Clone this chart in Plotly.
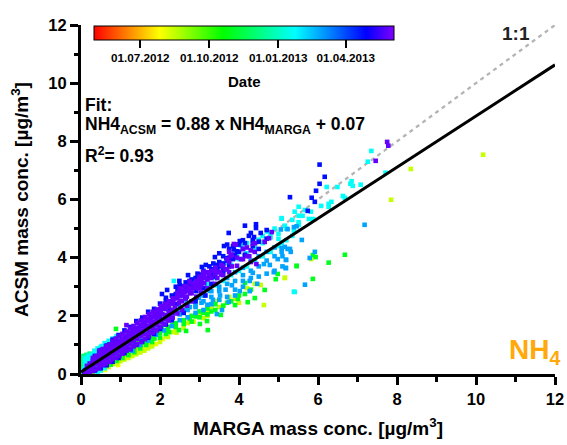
import plotly.graph_objects as go

# colour dates: days since 01.05.2012
TICK_DAYS = [61, 153, 245, 335]
TICK_LABELS = ["01.07.2012", "01.10.2012", "01.01.2013", "01.04.2013"]
DATE_MIN, DATE_MAX = 0, 400

DATE_YELLOW = 92
YELLOW_X = [1.90, 1.62, .94, 1.5, 1.7, 1.25, 2.07, .61]
YELLOW_Y = [1.03, .86, .31, .78, .92, .62, 1.2, .14]

DATE_LIME = 106
LIME_X = [.12,.18,.22,.28,.33,.38,.42,.47,.52,.55,.66,.72,.78,.83,.88,.98,1.04,1.09,1.14,1.18,1.3,1.36,1.42,1.48,1.55,1.68,1.75,2.2,2.33,2.42,2.6,2.85,3.1,3.4,3.6,3.9,3.75,4.55,4.63,5.16,5.83,5.16,7.85,8.35,10.18]
LIME_Y = [.03,.06,.09,.12,.13,.18,.2,.24,.27,.31,.36,.33,.42,.47,.43,.55,.5,.63,.58,.69,.78,.72,.85,.82,.95,1.02,.96,1.27,1.44,1.42,1.58,1.8,1.92,2.5,2.34,2.58,2.65,3.06,2.37,3.31,3.95,3.30,5.99,7.05,7.54]
LIME_COLUMNS = [(.2,[.02]),(.3,[.08]),(.4,[.12]),(.5,[.18]),(.6,[.22]),(.7,[.24,.3]),(.8,[.34]),(.9,[.36,.42]),(1.0,[.44,.5]),(1.1,[.5,.56]),(1.2,[.55,.62]),(1.3,[.62]),(1.4,[.68,.75]),(1.5,[.74]),(1.6,[.8]),(1.7,[.88]),(1.8,[.95,1.0]),(2.0,[1.1]),(2.15,[1.3]),(2.4,[1.55]),(2.7,[1.75]),(3.0,[2.0]),(3.2,[2.0,2.15]),(3.3,[2.3]),(3.5,[2.3,2.55]),(4.0,[2.45]),(4.2,[2.95]),(4.4,[3.1])]

DATE_GREEN = 182
GREEN_X = [.05,.09,.13,.17,.21,.26,.3,.35,.4,.46,.5,.56,.6,.64,.7,.76,.8,.86,.9,.96,1.0,1.06,1.12,1.17,1.22,1.28,1.34,1.4,1.46,1.52,1.58,1.64,1.7,1.78,1.86,1.95,2.05,2.15,2.23,2.32,2.48,2.66,2.75,2.9,3.01,3.1,3.19,3.21,3.3,3.54,3.7,3.9,3.97,4.15,4.15,4.22,4.4,4.65,4.93,4.98,5.46,5.46,5.87,5.87,5.94,6.27,6.68,.885]
GREEN_Y = [.02,.05,.08,.14,.16,.18,.2,.27,.3,.34,.4,.37,.46,.5,.52,.58,.56,.66,.7,.63,.76,.8,.72,.88,.92,.84,1.0,1.06,.98,1.12,1.08,1.2,1.26,1.3,1.22,1.5,1.62,1.38,1.44,1.7,1.51,1.48,1.9,1.98,1.72,2.1,1.82,1.51,2.15,2.03,2.45,2.37,2.58,2.75,3.13,2.47,2.61,2.89,3.26,3.44,3.71,3.72,3.27,4.09,4.02,3.83,4.10,1.55]
GREEN_COLUMNS = [(.3,[.1]),(.45,[.15,.24]),(.6,[.25,.33]),(.75,[.32,.45]),(.9,[.45,.55]),(1.05,[.55,.68]),(1.2,[.65,.78]),(1.35,[.75,.9]),(1.5,[.88,1.0]),(1.65,[1.0,1.12]),(1.8,[1.1,1.2]),(2.0,[1.25,1.4]),(2.2,[1.5,1.62]),(2.4,[1.62,1.75]),(2.6,[1.72,1.85]),(2.8,[1.8,2.0]),(3.0,[1.95,2.15]),(3.2,[2.05,2.25]),(3.4,[2.2,2.4]),(3.6,[2.35]),(3.8,[2.5]),(4.0,[2.7]),(4.3,[2.9])]

DATE_SPRING = 215
SPRING_X = [.02,.03,.04,.05,.06,.07,.08,.1,.12,.14,.03,.05,.07,.09,.11,.13,.16,.18,.2,.22,.02,.04,.06,.09,.12,.15]
SPRING_Y = [.05,.2,.35,.5,.62,.45,.28,.58,.42,.66,.12,.08,.15,.38,.3,.52,.46,.6,.55,.7,.28,.42,.55,.18,.22,.35]

DATE_CYAN = 266
CYAN_X = [.04,.08,.12,.16,.2,.25,.3,.35,.4,.45,.52,.58,.64,.7,.76,.85,.95,1.05,1.2,2.35,3.3,3.5,3.65,3.8,3.95,4.05,4.2,4.35,4.5,4.6,4.72,4.8,4.9,5.0,5.08,5.16,5.39,5.39,5.41,5.51,5.51,5.51,5.41,5.51,5.61,5.67,5.77,5.82,5.88,6.08,6.22,6.27,6.27,6.34,6.49,6.63,6.68,6.82,6.85,6.88,7.08,7.26,7.35,7.71,5.08,5.08]
CYAN_Y = [.1,.18,.3,.4,.5,.56,.6,.72,.78,.74,.96,.88,.98,1.02,1.1,1.12,1.2,1.28,1.4,3.20,3.62,3.7,3.82,4.05,4.1,4.42,4.5,4.55,4.62,4.75,4.9,4.7,5.0,4.82,5.36,5.1,4.91,2.83,2.82,5.22,5.75,5.44,5.58,5.13,5.44,5.64,5.33,5.58,5.33,5.78,6.43,5.85,5.75,5.92,6.43,6.12,6.06,6.54,6.63,6.47,6.51,7.30,7.67,6.92,5.34,4.5]
CYAN_COLUMNS = [(.1,[.4,.55]),(.18,[.48,.62]),(.26,[.66,.6]),(.34,[.8,.68]),(.42,[.88,.06]),(.5,[.92,.12]),(.6,[1.06,.2]),(.7,[1.14]),(.8,[1.22]),(.9,[1.3]),(3.2,[2.9,3.1]),(3.4,[3.05,3.3]),(3.6,[3.2,3.5]),(3.8,[3.4,3.75]),(4.0,[3.55,3.95]),(4.2,[3.7,4.15]),(4.4,[3.9,4.35]),(4.6,[4.05,4.5]),(4.8,[4.2,4.85]),(5.0,[4.4,4.65]),(5.2,[4.6,5.0]),(5.35,[4.75,5.3])]

DATE_AZURE = 302
AZURE_X = [.3,.38,.46,.55,.62,.7,.78,.85,.92,1.0,1.06,1.14,1.2,1.28,1.34,1.42,1.5,1.56,1.62,1.7,1.76,1.84,1.9,1.98,2.05,2.12,2.18,2.25,2.32,2.38,2.45,2.52,2.6,2.68,2.75,2.82,2.9,2.98,3.05,3.12,3.2,3.26,3.34,3.44,3.52,3.57,3.66,3.74,3.82,3.9,4.02,4.1,4.27,4.27,4.35,4.46,4.63,4.78,4.88,4.98,5.08,5.08,5.16,5.19,5.19,5.23,5.29,5.31,5.18,5.19,5.39,5.46,5.59,5.67,5.79,5.92,7.18,5.06,5.23]
AZURE_Y = [.2,.28,.36,.44,.5,.6,.66,.72,.8,.84,.95,1.0,1.06,1.16,1.2,1.28,1.38,1.42,1.5,1.58,1.6,1.7,1.76,1.88,1.82,1.98,1.9,2.1,2.0,2.22,2.12,2.3,2.2,2.44,2.3,2.5,2.36,2.62,2.45,2.75,2.38,2.86,2.55,2.06,2.7,2.2,2.9,2.48,3.05,2.7,2.85,3.2,2.85,3.2,3.48,3.1,3.78,3.75,3.5,3.95,4.33,4.2,4.37,3.92,3.64,4.3,4.30,4.2,3.65,3.93,5.05,5.08,4.61,3.07,3.99,4.2,5.13,4.97,4.98]
AZURE_COLUMNS = [(1.3,[.8,1.05]),(1.5,[1.0,1.25]),(1.7,[1.15,1.4]),(1.9,[1.35,1.6]),(2.1,[1.5,1.72]),(2.3,[1.65,1.92]),(2.5,[1.85,2.05]),(2.7,[1.95,2.2,2.4]),(2.9,[2.1,2.3,2.55]),(3.1,[2.2,2.5,2.7]),(3.3,[2.4,2.65,2.85]),(3.5,[2.55,2.85,3.0]),(3.7,[2.65,3.1,3.3]),(3.9,[2.9,3.2,3.5]),(4.1,[3.0,3.4,3.65]),(4.3,[3.3,3.55,3.9]),(4.5,[3.35,3.7,4.05]),(4.7,[3.45,3.9,4.2]),(4.9,[3.55,4.05,4.35]),(5.1,[3.7,4.05])]

DATE_BLUE = 358
BLUE_X = [.1,.16,.24,.3,.36,.44,.5,.56,.62,.68,.74,.8,.86,.92,.98,1.04,1.1,1.16,1.22,1.28,1.34,1.4,1.46,1.52,1.58,1.64,1.7,1.76,1.82,1.88,1.94,2.0,2.05,2.12,2.18,2.24,2.3,2.36,2.42,2.49,2.55,2.62,2.71,2.78,2.85,2.92,3.0,3.06,3.16,3.21,3.3,3.39,3.45,3.55,3.62,3.68,3.74,3.8,3.87,3.95,4.02,4.15,4.3,4.38,4.43,4.43,5.29,5.74,5.84,5.92,5.95,6.04,6.04,6.17]
BLUE_Y = [.12,.2,.34,.4,.48,.56,.66,.62,.76,.84,.78,.96,1.0,1.12,1.02,1.2,1.16,1.3,1.36,1.24,1.5,1.56,1.44,1.66,1.72,1.6,1.86,1.92,1.78,2.02,2.1,1.98,2.75,2.3,2.89,2.2,2.5,2.62,2.4,3.20,2.7,2.82,3.40,2.95,3.08,2.85,3.15,3.68,3.75,3.3,3.45,4.02,3.6,3.7,4.40,3.98,4.85,4.1,4.28,4.22,4.57,5.10,4.85,4.71,5.15,5.02,6.08,5.61,6.06,5.92,6.30,7.2,6.54,6.78]
BLUE_COLUMNS = [(.35,[.62,.12]),(.5,[.82,.2]),(.65,[.98,.3]),(.8,[1.18,.42]),(.95,[1.34,.55]),(1.1,[1.5,.72]),(1.25,[1.62,.85]),(1.4,[1.82,1.0]),(1.55,[1.94,1.12]),(1.7,[2.14,1.25]),(1.85,[2.24,1.38]),(2.0,[2.42,1.55]),(2.15,[2.52,2.62,1.7]),(2.3,[2.7,1.85]),(2.45,[2.85,2.95]),(2.6,[3.02,2.1]),(2.75,[3.1,3.2]),(2.9,[3.3,2.5]),(3.0,[3.42,3.05]),(3.15,[3.5,2.7]),(3.3,[3.6,3.1]),(3.5,[3.85,4.15]),(3.7,[3.9,4.45]),(3.9,[4.45,4.1]),(4.1,[4.6,4.3]),(4.25,[4.75]),(4.55,[4.85]),(2.4,[3.0,2.75]),(2.5,[2.9,3.05]),(2.65,[2.95,3.15,2.6]),(2.8,[3.25,2.95]),(2.95,[3.15,3.45]),(3.1,[3.3,3.55,2.95]),(3.25,[3.4,3.7]),(3.35,[3.6,3.8,3.35]),(3.45,[3.75,3.5]),(3.6,[3.55,3.8,4.05]),(3.75,[4.0,4.3,3.7]),(3.85,[3.95,4.4]),(4.0,[4.2,4.45]),(4.15,[4.1,4.5]),(4.35,[4.4,4.6]),(4.5,[4.55,4.3]),(4.7,[4.65,4.95])]

DATE_VIOLET = 392
VIOLET_X = [.08,.12,.17,.2,.24,.27,.31,.34,.38,.41,.44,.48,.51,.54,.58,.61,.64,.67,.71,.74,.77,.8,.83,.87,.9,.93,.96,1.0,1.03,1.06,1.09,1.13,1.16,1.19,1.23,1.26,1.3,1.33,1.36,1.4,1.43,1.46,1.5,1.53,1.56,1.6,1.63,1.66,1.7,1.73,1.77,1.8,1.84,1.88,1.91,1.95,1.98,2.02,2.06,2.1,2.14,2.18,2.22,2.26,2.3,2.34,2.38,2.42,2.48,2.52,2.58,2.64,2.7,2.76,2.82,2.88,2.96,3.09,3.05,3.15,3.25,3.36,3.52,3.65,3.79,3.87,4.26,4.35,4.44,4.65,4.76,4.83,7.46,7.75,7.78]
VIOLET_Y = [.06,.14,.13,.24,.2,.32,.26,.4,.34,.46,.38,.54,.44,.6,.5,.68,.56,.74,.62,.8,.7,.88,.76,.94,.84,1.02,.9,1.1,.96,1.16,1.04,1.24,1.1,1.3,1.18,1.38,1.24,1.44,1.3,1.52,1.38,1.6,1.42,1.68,1.5,1.74,1.58,1.82,1.66,1.9,1.74,1.96,1.8,2.04,1.9,2.12,1.96,2.2,2.06,2.28,2.02,2.36,2.12,2.42,2.2,2.5,2.3,2.6,2.44,2.52,2.72,2.6,2.85,2.78,2.95,3.02,3.1,3.51,3.22,3.3,3.42,3.54,3.51,3.6,4.05,4.47,4.05,4.47,3.78,4.54,4.67,4.88,7.33,7.98,7.85]
VIOLET_COLUMNS = [(.15,[.02,.28]),(.22,[.08,.36]),(.3,[.1,.45,.55]),(.38,[.16,.5,.62]),(.46,[.2,.32,.66,.8]),(.55,[.3,.42,.72,.86]),(.63,[.36,.5,.82,.95]),(.72,[.42,.58,.88,1.02]),(.8,[.5,.66,.98,1.12]),(.88,[.56,.72,1.05,1.22]),(.97,[.62,.78,1.14,1.3]),(1.05,[.7,.86,1.22,1.38]),(1.15,[.8,.94,1.3,1.46,1.68]),(1.24,[.86,1.02,1.4,1.56]),(1.33,[.95,1.12,1.5,1.65]),(1.42,[1.02,1.2,1.58,1.76]),(1.52,[1.1,1.3,1.68,1.84]),(1.62,[1.2,1.36,1.78,1.96]),(1.72,[1.3,1.46,1.88,2.06]),(1.82,[1.42,1.56,1.98,2.14]),(1.92,[1.5,1.68,2.06,2.22]),(2.02,[1.62,1.78,2.14,2.34]),(2.12,[1.72,1.88,2.24,2.42]),(2.22,[1.84,1.98,2.32,2.5]),(2.32,[1.94,2.1,2.42,2.6]),(2.44,[2.08,2.66,2.8]),(2.56,[2.2,2.5,2.86]),(2.68,[2.35,2.66,3.0]),(2.8,[2.5,2.78,3.12]),(2.92,[2.66,3.2]),(3.04,[2.8,3.05,3.3]),(3.2,[2.95,3.25,3.5]),(3.4,[3.1,3.44,3.66]),(3.6,[3.4,3.7]),(3.75,[3.5,3.85,4.2]),(3.95,[3.72,4.0]),(4.1,[3.95,4.3]),(4.3,[3.85,4.25]),(2.5,[2.7,2.95]),(2.62,[2.85,3.02]),(2.75,[2.95,3.18]),(2.9,[2.95,3.08]),(3.0,[2.95,3.2,3.35]),(3.12,[3.12,3.4]),(3.3,[3.3,3.55]),(3.45,[3.3,3.52]),(3.55,[3.42,3.75]),(3.7,[3.6,3.95]),(3.82,[3.7,4.1]),(3.92,[4.45]),(4.05,[3.95]),(4.2,[4.05,4.35]),(4.4,[4.2,4.5])]

LINE_X = [0, 12]
FIT_Y = [0.07, 10.63]
ONE_ONE_Y = [0, 12]


def merged(xs, ys, columns):
    out_x, out_y = list(xs), list(ys)
    for x, col in columns:
        for y in col:
            out_x.append(x)
            out_y.append(y)
    return out_x, out_y


GROUPS = [
    (DATE_YELLOW, *merged(YELLOW_X, YELLOW_Y, [])),
    (DATE_LIME, *merged(LIME_X, LIME_Y, LIME_COLUMNS)),
    (DATE_GREEN, *merged(GREEN_X, GREEN_Y, GREEN_COLUMNS)),
    (DATE_SPRING, *merged(SPRING_X, SPRING_Y, [])),
    (DATE_CYAN, *merged(CYAN_X, CYAN_Y, CYAN_COLUMNS)),
    (DATE_AZURE, *merged(AZURE_X, AZURE_Y, AZURE_COLUMNS)),
    (DATE_BLUE, *merged(BLUE_X, BLUE_Y, BLUE_COLUMNS)),
    (DATE_VIOLET, *merged(VIOLET_X, VIOLET_Y, VIOLET_COLUMNS)),
]

FONT = "Liberation Sans, Arial, sans-serif"
W, H = 567, 445
L, R, T, B = 81, 555.5, 24.5, 374
pw, ph = R - L, B - T


def bold(size, color="black"):
    return dict(family=FONT, size=size, color=color, weight="bold")


fig = go.Figure()
fig.add_trace(go.Scatter(x=LINE_X, y=ONE_ONE_Y, mode="lines", showlegend=False,
                         line=dict(color="#b4b4b4", width=2.3, dash="4px,4px")))
for date, xs, ys in GROUPS:
    fig.add_trace(go.Scatter(x=xs, y=ys, mode="markers", showlegend=False,
                             marker=dict(symbol="square", size=4.6, color=[date] * len(xs),
                                         coloraxis="coloraxis", line=dict(width=0))))
fig.add_trace(go.Scatter(x=LINE_X, y=FIT_Y, mode="lines", showlegend=False,
                         line=dict(color="black", width=3)))

axis = dict(range=[0, 12], dtick=2, tick0=0, ticks="outside", ticklen=8, tickwidth=2.5,
            tickcolor="black", showline=True, linecolor="black", linewidth=3, automargin=False,
            showgrid=False, zeroline=False, tickangle=0, tickfont=bold(16.5),
            minor=dict(dtick=1, ticks="outside", ticklen=4.5, tickwidth=2.5, tickcolor="black", showgrid=False))


def note(text, px, py, size, xanchor="left", color="black", xshift=0):
    return dict(text=text, x=min((px - L) / pw, 1), y=(B - py) / ph, xref="paper", yref="paper",
                xanchor=xanchor, yanchor="middle", showarrow=False, font=bold(size, color), xshift=xshift)


fig.update_layout(
    width=W, height=H, autosize=False, plot_bgcolor="white", paper_bgcolor="white",
    margin=dict(l=L, r=W - R, t=T, b=H - B, pad=0, autoexpand=False),
    xaxis=dict(axis, title=dict(text="MARGA mass conc. [µg/m<sup>3</sup>]", font=bold(19))),
    yaxis=dict(axis, title=dict(text="ACSM mass conc. [µg/m<sup>3</sup>]", font=bold(19))),
    coloraxis=dict(
        cmin=DATE_MIN, cmax=DATE_MAX,
        colorscale=[[0, "#ff0000"], [0.218, "#ffff00"], [0.43, "#00ff00"], [0.67, "#00ffff"],
                    [0.907, "#0000ff"], [1, "#7f00ff"]],
        colorbar=dict(orientation="h", x=(94.5 - L) / pw, xanchor="left", xpad=0,
                      y=(B - 26) / ph, yanchor="top", ypad=0, len=300.5 / pw, lenmode="fraction",
                      thickness=14, thicknessmode="pixels", outlinecolor="black", outlinewidth=1,
                      ticks="outside", ticklen=8, tickwidth=1.5, tickcolor="black",
                      tickvals=TICK_DAYS, ticktext=TICK_LABELS, tickfont=bold(11.7)),
    ),
    annotations=[
        note("Date", 245, 81, 15, "center"),
        note("Fit:", 83, 105, 17.5),
        note("NH4<sub>ACSM</sub> = 0.88 x NH4<sub>MARGA</sub> + 0.07", 83, 125, 17.5),
        note("R<sup>2</sup>= 0.93", 83, 155, 17.5),
        note("1:1", 532, 33, 19, "right", "#222222"),
        note("NH<sub>4</sub>", R, 351, 28, "right", "#ffa90a", xshift=6.5),
    ],
)

fig.write_html("out.html", config={"displayModeBar": False}, post_script="document.body.style.margin='0';")
